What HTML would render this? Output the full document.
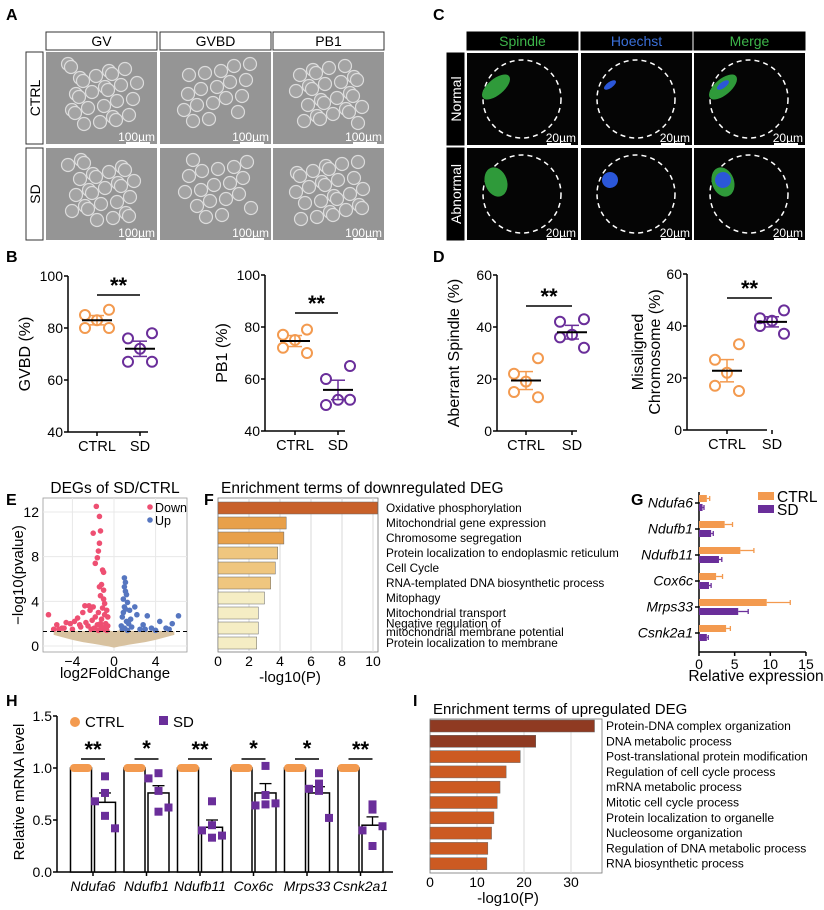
<!DOCTYPE html>
<html><head><meta charset="utf-8"><style>
html,body{margin:0;padding:0;background:#fff}
svg{display:block;font-family:"Liberation Sans",Arial,sans-serif}
</style></head><body>
<svg id="fig" width="824" height="910" viewBox="0 0 824 910" xmlns="http://www.w3.org/2000/svg"></svg>
<script>
// ---------- DATA ----------
const dotCats=["CTRL","SD"];
const gvbdCtrl=[87,85,83,80,80];
const gvbdSd=[78,76,72,67,67];
const pb1Ctrl=[79,77,75,72,70];
const pb1Sd=[65,60,52,50,52];
const spindleCtrl=[28,22,19,15,13];
const spindleSd=[43,42,37,36,32];
const chromCtrl=[33,27,22,17,15];
const chromSd=[46,43,42,40,37];

const downX=[-1.7,-1.4,-1.3,-2.0,-1.4,-1.5,-1.6,-1.8,-1.1,-1.0,-1.2,-1.4,-1.0,-1.3,-1.0,-2.4,-2.8,-2.0,-3.0,-2.3,-3.5,-4.2,-4.6,-6.3,-5.5,-5.0,-3.8,-1.5,-1.8,-1.2,-0.8,-2.5,-3.2,-4.0,-5.8,-0.9,-0.7,-1.1,-0.6,-0.9,-1.3,-1.6,-2.1,-2.7,-3.3,-0.8,-1.0,-0.7,-1.2,-1.9,-4.8,-5.3,-2.2,-0.6,-1.5];
const downY=[12.5,11.6,10.3,10.1,9.2,8.5,7.9,7.4,6.8,6.6,5.5,5.3,5.0,4.5,4.2,3.6,3.6,3.5,3.0,3.2,2.5,2.0,2.1,2.8,1.9,1.6,2.2,3.0,2.6,2.4,2.0,1.8,1.7,1.5,1.5,3.8,3.2,3.4,2.6,2.8,2.0,1.9,2.3,2.1,1.9,1.6,1.5,1.4,1.7,1.6,1.6,1.5,1.5,1.8,1.4];
const upX=[1.0,1.1,1.0,1.1,1.2,0.9,1.3,1.0,2.0,1.5,2.2,3.2,4.4,5.6,6.2,2.8,3.6,5.0,1.6,0.8,1.2,0.7,0.9,1.1,1.4,1.7,2.5,0.8,1.0,1.3,3.0,4.0,5.3];
const upY=[6.1,5.7,5.3,4.9,4.6,4.2,3.9,3.5,3.5,3.2,2.8,2.7,2.2,2.0,2.7,1.9,1.6,1.6,2.4,2.6,2.2,1.8,3.0,3.3,2.0,1.7,1.5,1.5,1.6,1.4,1.5,1.4,1.5];
const cloudX=[-5.8,-5,-4,-3,-2,-1,-0.5,0,0.5,1,2,3,4,5,5.8];
const cloudTop=[1.3,1.35,1.35,1.35,1.35,1.4,1.4,1.3,1.4,1.4,1.35,1.35,1.35,1.35,1.3];
const cloudBot=[1.0,0.8,0.55,0.35,0.2,0.05,-0.05,-0.15,-0.05,0.05,0.2,0.35,0.55,0.8,1.0];
const volTicksX=[-4,0,4];
const volTicksY=[0,4,8,12];

const downTerms=["Oxidative phosphorylation","Mitochondrial gene expression","Chromosome segregation","Protein localization to endoplasmic reticulum","Cell Cycle","RNA-templated DNA biosynthetic process","Mitophagy","Mitochondrial transport","Negative regulation of|mitochondrial membrane potential","Protein localization to membrane"];
const downVals=[10.3,4.4,4.25,3.85,3.7,3.4,3.0,2.6,2.6,2.5];
const downTicks=[0,2,4,6,8,10];

const genes=["Ndufa6","Ndufb1","Ndufb11","Cox6c","Mrps33","Csnk2a1"];
const gCtrl=[1.1,3.6,5.8,2.4,9.5,3.8];
const gCtrlErr=[0.4,1.1,1.9,0.9,3.3,0.6];
const gSd=[0.5,1.7,2.8,1.4,5.5,1.1];
const gSdErr=[0.2,0.3,0.4,0.3,1.4,0.2];
const gTicks=[0,5,10,15];

const hCtrl=[1,1,1,1,1,1];
const hSdMean=[0.67,0.76,0.43,0.76,0.76,0.45];
const hSdErr=[0.09,0.07,0.07,0.09,0.06,0.08];
const hSdPts=[[0.92,0.76,0.68,0.54,0.42],[0.95,0.78,0.90,0.58,0.62],[0.68,0.45,0.40,0.33,0.35],[1.02,0.74,0.64,0.65,0.66],[0.95,0.85,0.80,0.78,0.52],[0.65,0.60,0.40,0.25,0.44]];
const hStars=["**","*","**","*","*","**"];
const hTicks=[0,0.5,1.0,1.5];

const upTerms=["Protein-DNA complex organization","DNA metabolic process","Post-translational protein modification","Regulation of cell cycle process","mRNA metabolic process","Mitotic cell cycle process","Protein localization to organelle","Nucleosome organization","Regulation of DNA metabolic process","RNA biosynthetic process"];
const upVals=[35,22.5,19.2,16.2,14.9,14.3,13.6,13.1,12.3,12.1];
const upTicks=[0,10,20,30];

// ---------- HELPERS ----------
const NS="http://www.w3.org/2000/svg";
const svg=document.getElementById('fig');
function mk(tag,attrs,parent){const e=document.createElementNS(NS,tag);for(const k in attrs)e.setAttribute(k,attrs[k]);(parent||svg).appendChild(e);return e;}
function txt(x,y,s,attrs,parent){const t=mk('text',Object.assign({x:x,y:y},attrs||{}),parent);t.textContent=s;return t;}
const OR="#f39a4f",PU="#6a2e9a";

// ---------- PANEL LETTERS ----------
const letters=[["A",6,20],["C",433,20],["B",6,262],["D",433,262],["E",6,505],["F",204,505],["G",631,505],["H",6,706],["I",413,706]];
for(const L of letters){const t=txt(L[1],L[2],L[0],{"font-size":16,"font-weight":"bold"});

}

// ---------- IMAGE GRIDS (A, C) ----------
function grid(prefix,x0s,cols,rows,rowY,dark,colColors){
  const g=mk('g',{});
  
  
  cols.forEach((c,i)=>{const r=mk('rect',{x:x0s[i],y:32,width:111,height:18,fill:dark?"#000":"#fff",stroke:dark?"#000":"#333","stroke-width":1},g);
    
    
    const t=txt(x0s[i]+55.5,46,c,{"font-size":14,"text-anchor":"middle",fill:colColors?colColors[i]:"#000"},g);
    
    });
  rows.forEach((rn,j)=>{const y=rowY[j];
    const rb=mk('rect',{x:x0s[0]-20,y:y,width:17,height:92,fill:dark?"#000":"#fff",stroke:dark?"#000":"#333"},g);
    
    
    const t=txt(0,0,rn,{"font-size":14,"text-anchor":"middle",fill:dark?"#fff":"#000",transform:`translate(${x0s[0]-6},${y+46}) rotate(-90)`},g);
    
    
    x0s.forEach((x,i)=>{
      const im=mk('rect',{x:x,y:y,width:111,height:92,fill:dark?"#050505":"#959595"},g);
      
      
      if(!dark){
        for(let k=0;k<26-(i===1?8:0);k++){const cx=x+22+((k*37+j*13+i*7)%70),cy=y+12+((k*23+i*11)%62);
          mk('circle',{cx:cx,cy:cy,r:6.5,fill:"#a4a4a4",stroke:"#dcdcdc","stroke-width":1.2},g);}
      } else {
        const cx=x+55,cy=y+46;
        mk('circle',{cx:cx,cy:cy,r:39,fill:"none",stroke:"#fff","stroke-width":1.5,"stroke-dasharray":"5 4"},g);
        if(i!==1)mk('ellipse',{cx:cx-26,cy:cy-12,rx:j?11:17,ry:j?15:8,fill:"#2f9a3a",transform:`rotate(${j?-20:-40} ${cx-26} ${cy-12})`},g);
        if(i!==0)mk('ellipse',{cx:cx-26,cy:cy-14,rx:j?8:7,ry:j?8:3,fill:"#2b57d9",transform:`rotate(-35 ${cx-26} ${cy-14})`},g);
      }
      const sb=txt(x+109,y+89,dark?"20µm":"100µm",{"font-size":12,"text-anchor":"end",fill:"#fff"},g);
      
      
      mk('line',{x1:x+80,x2:x+104,y1:y+91,y2:y+91,stroke:"#fff","stroke-width":2},g);
    });
  });
}
grid('a',[46,160,273],["GV","GVBD","PB1"],["CTRL","SD"],[52,148],false);
grid('c',[467,581,694],["Spindle","Hoechst","Merge"],["Normal","Abnormal"],[53,148],true,["#3db54a","#3a6fd8","#3db54a"]);

// ---------- DOT PLOTS (B, D) ----------
function dotPlot(name,ax,yTop,yBot,vmin,vmax,ticks,ctrl,sd,ylabel,cx,starY){
  const g=mk('g',{});
  
  
  const ys=v=>yBot-(v-vmin)/(vmax-vmin)*(yBot-yTop);
  mk('line',{x1:ax,x2:ax,y1:yTop,y2:yBot,stroke:"#000","stroke-width":1.5},g);
  mk('line',{x1:ax,x2:ax+80,y1:yBot,y2:yBot,stroke:"#000","stroke-width":1.5},g);
  for(const t of ticks){mk('line',{x1:ax-4,x2:ax,y1:ys(t),y2:ys(t),stroke:"#000","stroke-width":1.5},g);
    const tl=txt(ax-5,ys(t)+5,String(t),{"font-size":14,"text-anchor":"end"},g);
    
    }
  const lines=ylabel.split('|');
  lines.forEach((l,i)=>{const xx=lines.length>1?ax-44+i*17:ax-38;
    const t=txt(0,0,l,{"font-size":16,"text-anchor":"middle",transform:`translate(${xx},${(yTop+yBot)/2}) rotate(-90)`},g);
    
    });
  const jit=[12,-12,0,-12,12];
  [ctrl,sd].forEach((arr,gi)=>{
    const x=cx[gi],col=gi?PU:OR;
    mk('line',{x1:x,x2:x,y1:yBot,y2:yBot+4,stroke:"#000","stroke-width":1.5},g);
    const xl=txt(x,yBot+19,dotCats[gi],{"font-size":14.5,"text-anchor":"middle"},g);
    
    
    const m=arr.reduce((a,b)=>a+b,0)/arr.length;
    const sdv=Math.sqrt(arr.reduce((a,b)=>a+(b-m)*(b-m),0)/(arr.length-1));
    const e=sdv/Math.sqrt(arr.length)*1.3;
    mk('line',{x1:x,x2:x,y1:ys(m+e),y2:ys(m-e),stroke:col,"stroke-width":1.5},g);
    mk('line',{x1:x-7,x2:x+7,y1:ys(m+e),y2:ys(m+e),stroke:col,"stroke-width":1.5},g);
    mk('line',{x1:x-7,x2:x+7,y1:ys(m-e),y2:ys(m-e),stroke:col,"stroke-width":1.5},g);
    arr.forEach((v,k)=>{const c=mk('circle',{cx:x+jit[k],cy:ys(v),r:5,fill:"none",stroke:col,"stroke-width":2},g);
      
      });
    const ml=mk('line',{x1:x-15,x2:x+15,y1:ys(m),y2:ys(m),stroke:"#000","stroke-width":2},g);
    
    
  });
  mk('line',{x1:cx[0],x2:cx[1],y1:starY,y2:starY,stroke:"#000","stroke-width":1.5},g);
  const st=txt((cx[0]+cx[1])/2,starY-2,"**",{"font-size":22,"font-weight":"bold","text-anchor":"middle"},g);
  
  
}
dotPlot('gvbd',68,276,432,40,100,[40,60,80,100],gvbdCtrl,gvbdSd,"GVBD (%)",[97,140],295);
dotPlot('pb1',265,275,431,40,100,[40,60,80,100],pb1Ctrl,pb1Sd,"PB1 (%)",[295,338],313);
dotPlot('spindle',497,275,431,0,60,[0,20,40,60],spindleCtrl,spindleSd,"Aberrant Spindle (%)",[526,572],306);
dotPlot('chromosome',687,274,430,0,60,[0,20,40,60],chromCtrl,chromSd,"Misaligned|Chromosome (%)",[727,772],298);

// ---------- VOLCANO (E) ----------
(function(){
  const g=mk('g',{});
  
  
  const L=43,R=187,T=498,B=652;
  const xs=v=>114+v*10.4, ys=v=>646-v*11.17;
  mk('rect',{x:L,y:T,width:R-L,height:B-T,fill:"#fff",stroke:"#999","stroke-width":0.8},g);
  for(const t of volTicksX){mk('line',{x1:xs(t),x2:xs(t),y1:T,y2:B,stroke:"#e8e8e8"},g);
    const tl=txt(xs(t),B+14,String(t).replace('-','−'),{"font-size":14,"text-anchor":"middle"},g);
    
    }
  for(const t of volTicksY){mk('line',{x1:L,x2:R,y1:ys(t),y2:ys(t),stroke:"#e8e8e8"},g);
    const tl=txt(L-4,ys(t)+5,String(t),{"font-size":14,"text-anchor":"end"},g);
    
    }
  let d="M"+cloudX.map((x,i)=>xs(x)+","+ys(cloudTop[i])).join(" L");
  for(let i=cloudX.length-1;i>=0;i--)d+=" L"+xs(cloudX[i])+","+ys(cloudBot[i]);
  const cl=mk('path',{d:d+"Z",fill:"#d8c2a0"},g);
  
  
  downX.forEach((x,i)=>{const c=mk('circle',{cx:xs(x),cy:ys(downY[i]),r:2.8,fill:"#ee4f72"},g);
    
    });
  upX.forEach((x,i)=>{const c=mk('circle',{cx:xs(x),cy:ys(upY[i]),r:2.8,fill:"#5676c0"},g);
    
    });
  const th=mk('line',{x1:L,x2:R,y1:ys(1.3),y2:ys(1.3),stroke:"#000","stroke-width":1,"stroke-dasharray":"4 3"},g);
  
  
  mk('circle',{cx:150,cy:507,r:2.8,fill:"#ee4f72"},g);
  const l1=txt(155,512,"Down",{"font-size":12.5},g);
  
  
  mk('circle',{cx:150,cy:520,r:2.8,fill:"#5676c0"},g);
  const l2=txt(155,525,"Up",{"font-size":12.5},g);
  
  
  const t=txt(115,493,"DEGs of SD/CTRL",{"font-size":15.5,"text-anchor":"middle"},g);
  
  
  const xt=txt(115,678,"log2FoldChange",{"font-size":15,"text-anchor":"middle"},g);
  
  
  const yt=txt(0,0,"−log10(pvalue)",{"font-size":15,"text-anchor":"middle",transform:"translate(23,575) rotate(-90)"},g);
  
  
})();

// ---------- ENRICHMENT BARS (F, I) ----------
function enrich(name,L,R,T,B,scale,y0,pitch,bh,vals,terms,ticks,colorFn,title,titleSize,labelSize,labelX){
  const g=mk('g',{});
  
  
  const xs=v=>L+v*scale;
  mk('rect',{x:L,y:T,width:R-L,height:B-T,fill:"#fff",stroke:"#777","stroke-width":0.8},g);
  for(const t of ticks){if(t>0)mk('line',{x1:xs(t),x2:xs(t),y1:T,y2:B,stroke:"#d8d8d8"},g);
    const tl=txt(xs(t),B+14,String(t),{"font-size":14,"text-anchor":"middle"},g);
    
    }
  vals.forEach((v,i)=>{const cy=y0+i*pitch;
    const b=mk('rect',{x:L,y:cy-bh/2,width:xs(v)-L,height:bh,fill:colorFn(i),stroke:"#666","stroke-width":0.5},g);
    
    
    const parts=terms[i].split('|');
    parts.forEach((p,k)=>{const t=txt(labelX,cy+4-(parts.length-1-k)*8.5+(parts.length>1?4:0),p,{"font-size":labelSize},g);
      
      });
  });
  const tt=txt(L+3,T-5,title,{"font-size":titleSize},g);
  
  
  const xt=txt((L+R)/2-8,B+30,"-log10(P)",{"font-size":15,"text-anchor":"middle"},g);
  
  
}
enrich('down',218,378,498,652,15.5,508,15,12,downVals,downTerms,downTicks,
  i=>i===0?"#c8612a":i<3?"#e8a04a":i<6?"#efc67f":"#f5edc4","Enrichment terms of downregulated DEG",15.5,11.8,386);
enrich('up',430,602,719,873,4.7,726,15.3,12,upVals,upTerms,upTicks,
  i=>i<2?"#8f3a22":"#cc5a22","Enrichment terms of upregulated DEG",15,12.1,606);

// ---------- G: horizontal grouped bars ----------
(function(){
  const g=mk('g',{});
  
  
  const ax=699,B=652,xs=v=>ax+v*7.13;
  const cy=i=>503+i*26;
  mk('line',{x1:ax,x2:ax,y1:492,y2:B,stroke:"#000","stroke-width":1.5},g);
  mk('line',{x1:ax,x2:xs(15),y1:B,y2:B,stroke:"#000","stroke-width":1.5},g);
  for(const t of gTicks){mk('line',{x1:xs(t),x2:xs(t),y1:B,y2:B+4,stroke:"#000","stroke-width":1.5},g);
    const tl=txt(xs(t),B+17,String(t),{"font-size":14,"text-anchor":"middle"},g);
    
    }
  genes.forEach((gn,i)=>{const c=cy(i);
    mk('line',{x1:ax-4,x2:ax,y1:c,y2:c,stroke:"#000","stroke-width":1.5},g);
    const gl=txt(ax-6,c+4.5,gn,{"font-size":14,"font-style":"italic","text-anchor":"end"},g);
    
    
    const b1=mk('rect',{x:ax,y:c-8,width:xs(gCtrl[i])-ax,height:7,fill:OR},g);
    
    
    mk('line',{x1:xs(gCtrl[i]),x2:xs(gCtrl[i]+gCtrlErr[i]),y1:c-4.5,y2:c-4.5,stroke:OR,"stroke-width":1.3},g);
    mk('line',{x1:xs(gCtrl[i]+gCtrlErr[i]),x2:xs(gCtrl[i]+gCtrlErr[i]),y1:c-7,y2:c-2,stroke:OR,"stroke-width":1.3},g);
    const b2=mk('rect',{x:ax,y:c+1,width:xs(gSd[i])-ax,height:7,fill:PU},g);
    
    
    mk('line',{x1:xs(gSd[i]),x2:xs(gSd[i]+gSdErr[i]),y1:c+4.5,y2:c+4.5,stroke:PU,"stroke-width":1.3},g);
    mk('line',{x1:xs(gSd[i]+gSdErr[i]),x2:xs(gSd[i]+gSdErr[i]),y1:c+2,y2:c+7,stroke:PU,"stroke-width":1.3},g);
  });
  mk('rect',{x:758,y:492,width:16,height:8,fill:OR},g);
  const l1=txt(777,502,"CTRL",{"font-size":15.5},g);
  
  
  mk('rect',{x:758,y:505,width:16,height:8,fill:PU},g);
  const l2=txt(777,515,"SD",{"font-size":15.5},g);
  
  
  const xt=txt(756,681,"Relative expression",{"font-size":15.5,"text-anchor":"middle"},g);
  
  
})();

// ---------- H: bar + points ----------
(function(){
  const g=mk('g',{});
  
  
  const ax=57,B=872,ys=v=>B-v*104;
  const tick=i=>93+i*53.5;
  mk('line',{x1:ax,x2:ax,y1:ys(1.5),y2:B,stroke:"#000","stroke-width":1.5},g);
  mk('line',{x1:ax,x2:393,y1:B,y2:B,stroke:"#000","stroke-width":1.5},g);
  for(const t of hTicks){mk('line',{x1:ax-4,x2:ax,y1:ys(t),y2:ys(t),stroke:"#000","stroke-width":1.5},g);
    const tl=txt(ax-5,ys(t)+5,t.toFixed(1),{"font-size":14,"text-anchor":"end"},g);
    
    }
  const yt=txt(0,0,"Relative mRNA level",{"font-size":15,"text-anchor":"middle",transform:"translate(24,792) rotate(-90)"},g);
  
  
  const jit=[0,0,-10,0,10];
  genes.forEach((gn,i)=>{const tx=tick(i);
    const c1=tx-12,c2=tx+12;
    mk('line',{x1:tx,x2:tx,y1:B,y2:B+4,stroke:"#000","stroke-width":1.5},g);
    const gl=txt(tx,B+19,gn,{"font-size":14,"font-style":"italic","text-anchor":"middle"},g);
    
    
    const b1=mk('rect',{x:c1-10.5,y:ys(hCtrl[i]),width:21,height:B-ys(hCtrl[i]),fill:"#fff",stroke:"#000","stroke-width":1.5},g);
    
    
    const pc=mk('rect',{x:c1-11,y:ys(hCtrl[i])-4,width:22,height:8,rx:4,fill:OR},g);
    
    
    const b2=mk('rect',{x:c2-10.5,y:ys(hSdMean[i]),width:21,height:B-ys(hSdMean[i]),fill:"#fff",stroke:"#000","stroke-width":1.5},g);
    
    
    const m=hSdMean[i],e=hSdErr[i];
    mk('line',{x1:c2,x2:c2,y1:ys(m+e),y2:ys(m),stroke:"#000","stroke-width":1.3},g);
    mk('line',{x1:c2-6,x2:c2+6,y1:ys(m+e),y2:ys(m+e),stroke:"#000","stroke-width":1.3},g);
    hSdPts[i].forEach((v,k)=>{const p=mk('rect',{x:c2+jit[k]-4,y:ys(v)-4,width:8,height:8,fill:PU},g);
      
      });
    mk('line',{x1:c1,x2:c2,y1:759,y2:759,stroke:"#000","stroke-width":1.5},g);
    const st=txt(tx,hStars[i].length>1?757:756,hStars[i],{"font-size":22,"font-weight":"bold","text-anchor":"middle"},g);
    
    
  });
  mk('circle',{cx:75,cy:722,r:5,fill:OR},g);
  const l1=txt(85,727,"CTRL",{"font-size":15},g);
  
  
  mk('rect',{x:159,y:716,width:9,height:9,fill:PU},g);
  const l2=txt(173,727,"SD",{"font-size":15},g);
  
  
})();
</script>
</body></html>
